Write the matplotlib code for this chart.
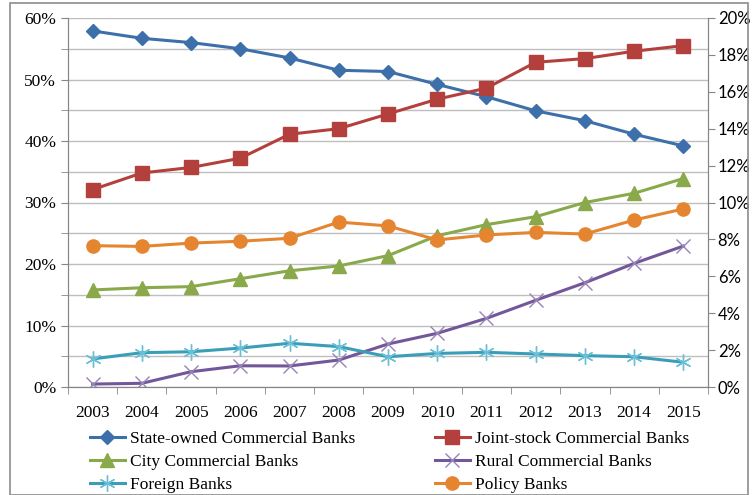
import numpy as np
import matplotlib.pyplot as plt
from matplotlib.patches import Rectangle
from matplotlib.ticker import MultipleLocator, FuncFormatter

years = ['2003', '2004', '2005', '2006', '2007', '2008', '2009',
         '2010', '2011', '2012', '2013', '2014', '2015']

# left axis (%)
state_owned = [57.9, 56.7, 56.0, 55.0, 53.5, 51.5, 51.3, 49.2, 47.2, 44.9, 43.3, 41.1, 39.2]
# right axis (%)
joint_stock = [10.7, 11.6, 11.9, 12.4, 13.7, 14.0, 14.8, 15.6, 16.2, 17.6, 17.8, 18.2, 18.5]
city = [5.26, 5.38, 5.44, 5.87, 6.3, 6.56, 7.12, 8.2, 8.8, 9.23, 10.0, 10.5, 11.3]
rural = [0.16, 0.2, 0.83, 1.15, 1.14, 1.46, 2.33, 2.91, 3.72, 4.7, 5.65, 6.7, 7.64]
foreign = [1.52, 1.86, 1.91, 2.11, 2.37, 2.19, 1.64, 1.82, 1.88, 1.79, 1.7, 1.64, 1.34]
policy = [7.66, 7.62, 7.8, 7.9, 8.06, 8.94, 8.73, 7.97, 8.24, 8.38, 8.29, 9.05, 9.65]

x = np.arange(len(years))
serif = 'Liberation Serif'

fig = plt.figure(figsize=(7.53, 4.95), dpi=100)
ax = fig.add_axes([68/753, 1-387/495, 640/753, 369/495])
ax2 = ax.twinx()

lw = 2.2
h1, = ax.plot(x, state_owned, color='#3D70AA', lw=lw, marker='D', ms=7.5, label='State-owned Commercial Banks')
h2, = ax2.plot(x, joint_stock, color='#B3403C', lw=lw, marker='s', ms=9.5, label='Joint-stock Commercial Banks')
h3, = ax2.plot(x, city, color='#89A94A', lw=lw, marker='^', ms=9.5, label='City Commercial Banks')
h4, = ax2.plot(x, rural, color='#72579A', lw=lw, marker='x', ms=9.5, mew=1.0, mec='#9883B8', label='Rural Commercial Banks')
h5, = ax2.plot(x, foreign, color='#3A9EB8', lw=lw, marker=(6, 2, 0), ms=11.5, mew=1.0, mec='#6CC0D6', label='Foreign Banks')
h6, = ax2.plot(x, policy, color='#E58530', lw=lw, marker='o', ms=9.5, label='Policy Banks')

ax.set_xlim(-0.5, 12.5)
ax.set_ylim(0, 60)
ax2.set_ylim(0, 20)

ax.yaxis.set_major_locator(MultipleLocator(10))
ax.yaxis.set_minor_locator(MultipleLocator(5))
ax.yaxis.set_major_formatter(FuncFormatter(lambda v, p: '%d%%' % v))
ax2.yaxis.set_major_locator(MultipleLocator(2))
ax2.yaxis.set_major_formatter(FuncFormatter(lambda v, p: '%d%%' % v))

ax.grid(axis='y', which='both', color='#BEBEBE', lw=1.0)
ax.set_axisbelow(True)

ax.set_xticks(x)
ax.set_xticklabels(years, fontfamily=serif, fontsize=12.5)
ax.set_xticks(np.arange(-0.5, 13, 1), minor=True)
ax.tick_params(axis='x', which='major', length=0, pad=13)
ax.tick_params(axis='x', which='minor', length=5, color='#868686')
ax.tick_params(axis='y', which='both', length=5, color='#868686', labelsize=12.5)
for lab in ax.get_yticklabels():
    lab.set_fontfamily(serif)
ax2.tick_params(axis='y', length=5, color='#868686', labelsize=12, pad=2)
for lab in ax2.get_yticklabels():
    lab.set_fontfamily('Lato')

for a in (ax, ax2):
    for s in a.spines.values():
        s.set_color('#868686')
    a.spines['top'].set_visible(False)

fig.legend([h1, h3, h5, h2, h4, h6],
           [h.get_label() for h in (h1, h3, h5, h2, h4, h6)],
           ncol=2, loc='upper left', bbox_to_anchor=(90/753, 1-431/495),
           frameon=False, prop={'family': serif, 'size': 12.5},
           handlelength=2.0, handletextpad=0.3, columnspacing=4.6,
           labelspacing=0.38, borderpad=0, borderaxespad=0)

fig.patches.append(Rectangle((10/753, 0), 738/753, 1-3/495, transform=fig.transFigure,
                             fill=False, edgecolor='#8C8C8C', lw=1.2))

fig.savefig('out.png', dpi=100)
